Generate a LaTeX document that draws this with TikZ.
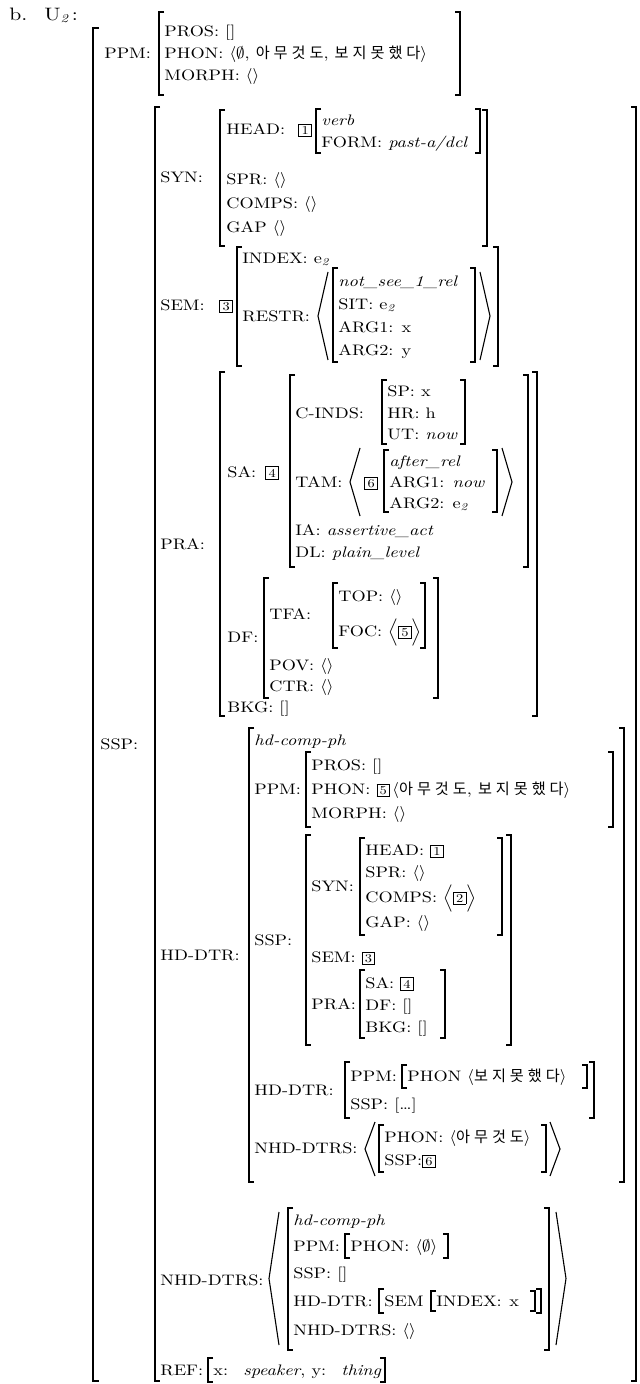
\documentclass[tikz,border=0pt]{standalone}
\usepackage{fontspec}
\usepackage{amsmath,amssymb}
\usepackage{tikz}
\usetikzlibrary{positioning}
\setmainfont{lmroman10-regular.otf}[FakeStretch=1.2,ItalicFont=lmroman10-italic.otf,BoldFont=lmroman10-bold.otf]
\newfontfamily\kr[LetterSpace=26]{Noto Sans CJK KR}
\newcommand{\tg}[1]{{\setlength{\fboxsep}{0.8pt}\setlength{\fboxrule}{0.45pt}\fbox{\makebox[4.2pt]{\fontsize{6}{6}\selectfont #1}}}}
\newcommand{\ob}{$\langle$}
\newcommand{\cb}{$\rangle$}
% bracket pair: left x, right x, top y, bottom y
\newcommand{\avmbox}[4]{%
  \draw[brk] (#1+5,#3) -- (#1,#3) -- (#1,#4) -- (#1+5,#4);
  \draw[brk] (#2-5,#3) -- (#2,#3) -- (#2,#4) -- (#2-5,#4);}
% angle pair: left x, right x, top y, bottom y
\newcommand{\angbox}[4]{%
  \draw[ang] (#1+10,#3) -- (#1,{(#3+#4)/2}) -- (#1+10,#4);
  \draw[ang] (#2-10,#3) -- (#2,{(#3+#4)/2}) -- (#2-10,#4);}

\begin{document}
\begin{tikzpicture}[x=0.5pt,y=-0.5pt,
  lbl/.style={anchor=west,inner sep=0pt,text height=6pt,text depth=0.9pt,font=\fontsize{7.6}{9}\selectfont},
  brk/.style={line width=0.7pt},
  ang/.style={line width=0.55pt}]
  \useasboundingbox (0,0) rectangle (640,1384);
  % header and outer matrix
  \node[lbl,font=\fontsize{9}{10}\selectfont] (b) at (9,15) {b.};
  \node[lbl,font=\fontsize{9}{10}\selectfont] (u2) at (44,15) {U\textsubscript{\itshape 2}\,:};
  \draw[brk] (99,28) -- (93,28) -- (93,1381) -- (99,1381);
  % PPM
  \node[lbl] (ppm) at (104,53) {PPM:};
  \avmbox{159}{460}{12}{95}
  \node[lbl] (pros) at (164,31) {PROS: []};
  \node[lbl] (phon) at (164,53) {PHON: \ob$\emptyset$, {\kr 아무것도}, {\kr 보지못했다}\cb};
  \node[lbl] (morph) at (164,75) {MORPH: \ob\cb};
  % SSP
  \node[lbl] (ssp) at (100,744) {SSP:};
  \avmbox{155}{636}{107}{1381}
  % SYN
  \node[lbl] (syn) at (160,177) {SYN:};
  \avmbox{220}{487}{110}{246}
  \node[lbl] (head) at (226,129) {HEAD:};
  \node[lbl] (t1) at (298,129) {\tg{1}};
  \avmbox{316}{480}{109}{153}
  \node[lbl] (verb) at (321,120) {\textit{verb}};
  \node[lbl] (form) at (321,142) {FORM: \textit{past-a/dcl}};
  \node[lbl] (spr) at (226,179) {SPR: \ob\cb};
  \node[lbl] (comps) at (226,203) {COMPS: \ob\cb};
  \node[lbl] (gap) at (226,227) {GAP \ob\cb};
  % SEM
  \node[lbl] (sem) at (160,305) {SEM:};
  \node[lbl] (t3) at (219,305) {\tg{3}};
  \avmbox{237}{498}{247}{366}
  \node[lbl] (index) at (242,258) {INDEX: e\textsubscript{\itshape 2}};
  \node[lbl] (restr) at (242,316) {RESTR:};
  \angbox{318}{490}{272}{360}
  \avmbox{333}{475}{268}{362}
  \node[lbl] (rel) at (338,281) {\textit{not\_see\_1\_rel}};
  \node[lbl] (sit) at (338,304) {SIT: e\textsubscript{\itshape 2}};
  \node[lbl] (arg1) at (338,327) {ARG1: x};
  \node[lbl] (arg2) at (338,350) {ARG2: y};
  % PRA
  \node[lbl] (pra) at (160,544) {PRA:};
  \avmbox{220}{537}{372}{716}
  \node[lbl] (sa) at (227,472) {SA:};
  \node[lbl] (t4) at (265,472) {\tg{4}};
  \avmbox{290}{528}{375}{567}
  \node[lbl] (cinds) at (295,413) {C-INDS:};
  \avmbox{382}{465}{380}{444}
  \node[lbl] (sp) at (387,391) {SP: x};
  \node[lbl] (hr) at (387,413) {HR: h};
  \node[lbl] (ut) at (387,434) {UT: \textit{now}};
  \node[lbl] (tam) at (295,482) {TAM:};
  \angbox{350}{512}{448}{516}
  \node[lbl] (t6) at (364,482) {\tg{6}};
  \avmbox{384}{497}{450}{512}
  \node[lbl] (after) at (389,461) {\textit{after\_rel}};
  \node[lbl] (targ1) at (389,482) {ARG1: \textit{now}};
  \node[lbl] (targ2) at (389,503) {ARG2: e\textsubscript{\itshape 2}};
  \node[lbl] (ia) at (295,530) {IA: \textit{assertive\_act}};
  \node[lbl] (dl) at (295,552) {DL: \textit{plain\_level}};
  \node[lbl] (df) at (227,637) {DF:};
  \avmbox{264}{438}{578}{698}
  \node[lbl] (tfa) at (269,614) {TFA:};
  \avmbox{333}{425}{583}{648}
  \node[lbl] (top) at (338,596) {TOP: \ob\cb};
  \node[lbl] (foc) at (338,631) {FOC: $\Bigl\langle$\tg{5}$\Bigr\rangle$};
  \node[lbl] (pov) at (269,665) {POV: \ob\cb};
  \node[lbl] (ctr) at (269,686) {CTR: \ob\cb};
  \node[lbl] (bkg) at (227,707) {BKG: []};
  % HD-DTR
  \node[lbl] (hd) at (160,955) {HD-DTR:};
  \avmbox{249}{624}{728}{1182}
  \node[lbl] (hdtype) at (254,740) {\textit{hd-comp-ph}};
  \node[lbl] (hppm) at (254,789) {PPM:};
  \avmbox{306}{613}{752}{827}
  \node[lbl] (hpros) at (311,765) {PROS: []};
  \node[lbl] (hphon) at (311,789) {PHON: \tg{5}\,\ob{\kr 아무것도}, {\kr 보지못했다}\cb};
  \node[lbl] (hmorph) at (311,813) {MORPH: \ob\cb};
  \node[lbl] (hssp) at (254,940) {SSP:};
  \avmbox{306}{511}{835}{1045}
  \node[lbl] (hsyn) at (311,886) {SYN:};
  \avmbox{360}{502}{838}{935}
  \node[lbl] (hhead) at (365,850) {HEAD: \tg{1}};
  \node[lbl] (hspr) at (365,872) {SPR: \ob\cb};
  \node[lbl] (hcomps) at (365,897) {COMPS: $\Bigl\langle$\tg{2}$\Bigr\rangle$};
  \node[lbl] (hgap) at (365,922) {GAP: \ob\cb};
  \node[lbl] (hsem) at (311,957) {SEM: \tg{3}};
  \node[lbl] (hpra) at (311,1004) {PRA:};
  \avmbox{360}{445}{970}{1038}
  \node[lbl] (hsa) at (365,983) {SA: \tg{4}};
  \node[lbl] (hdf) at (365,1005) {DF: []};
  \node[lbl] (hbkg) at (365,1027) {BKG: []};
  \node[lbl] (hhd) at (254,1090) {HD-DTR:};
  \avmbox{345}{594}{1062}{1118}
  \node[lbl] (hdppm) at (350,1076) {PPM:};
  \avmbox{402}{587}{1065}{1088}
  \node[lbl] (hdphon) at (407,1076) {PHON \ob{\kr 보지못했다}\cb};
  \node[lbl] (hdssp) at (350,1104) {SSP: [\ldots]};
  \node[lbl] (hnhd) at (254,1148) {NHD-DTRS:};
  \angbox{365}{560}{1122}{1176}
  \avmbox{379}{546}{1125}{1172}
  \node[lbl] (nphon) at (384,1137) {PHON: \ob{\kr 아무것도}\cb};
  \node[lbl] (nssp) at (384,1160) {SSP:\tg{6}};
  % NHD-DTRS
  \node[lbl] (nhd) at (160,1280) {NHD-DTRS:};
  \angbox{269}{566}{1212}{1345}
  \avmbox{288}{549}{1208}{1350}
  \node[lbl] (ntype) at (293,1220) {\textit{hd-comp-ph}};
  \node[lbl] (nppm) at (293,1246) {PPM:};
  \avmbox{345}{448}{1234}{1258}
  \node[lbl] (nphon2) at (350,1246) {PHON: \ob$\emptyset$\cb};
  \node[lbl] (nssp2) at (293,1273) {SSP: []};
  \node[lbl] (nhdd) at (293,1301) {HD-DTR:};
  \avmbox{379}{541}{1289}{1313}
  \node[lbl] (nsem) at (384,1301) {SEM};
  \avmbox{431}{535}{1291}{1311}
  \node[lbl] (nidx) at (436,1301) {INDEX:\enspace x};
  \node[lbl] (nnhd) at (293,1330) {NHD-DTRS: \ob\cb};
  % REF
  \node[lbl] (ref) at (160,1370) {REF:};
  \avmbox{208}{385}{1358}{1382}
  \node[lbl] (refv) at (213,1370) {x:\quad\textit{speaker}, y:\quad\textit{thing}};
\end{tikzpicture}
\end{document}
